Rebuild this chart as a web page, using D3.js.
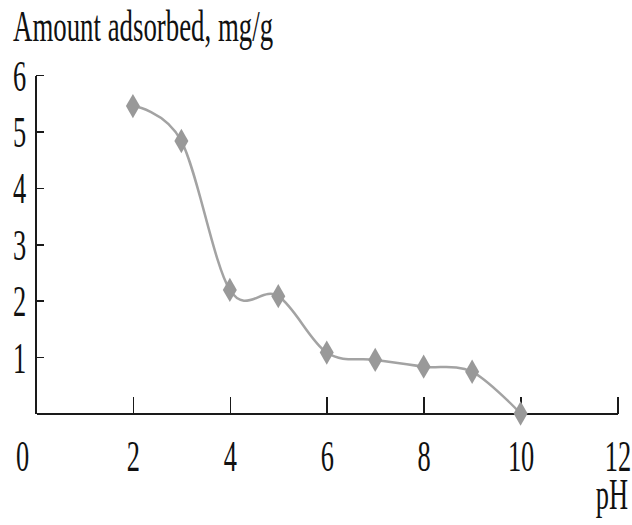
<!DOCTYPE html>
<html><head><meta charset="utf-8">
<script src="https://cdn.jsdelivr.net/npm/d3@7"></script>
<style>body{margin:0;background:#fff}svg{display:block}</style>
</head><body>
<script>
const pH = [2, 3, 4, 5, 6, 7, 8, 9, 10];
const amount = [5.45, 4.83, 2.19, 2.08, 1.08, 0.95, 0.83, 0.74, 0.0];
const xTicks = [0, 2, 4, 6, 8, 10, 12];
const yTicks = [1, 2, 3, 4, 5, 6];
const yTitle = "Amount adsorbed, mg/g";
const xTitle = "pH";

const W = 632, H = 525;
const SX = 0.6, FS = 44, FONT = "'Liberation Serif','Times New Roman',serif";
const svg = d3.select("body").append("svg").attr("width", W).attr("height", H);

const x = d3.scaleLinear().domain([0, 12]).range([36, 617.5]);
const y = d3.scaleLinear().domain([0, 6]).range([413.5, 75]);

// X axis
const gx = svg.append("g").attr("transform", `translate(0,${y(0)})`)
  .call(d3.axisBottom(x).tickValues(xTicks).tickSizeInner(-17).tickSizeOuter(0).tickFormat(d3.format("d")));
gx.select(".domain").attr("stroke", "#1a1a1a").attr("stroke-width", 2);
gx.selectAll(".tick line").attr("stroke", "#1a1a1a").attr("stroke-width", 1.6)
  .attr("display", d => d === 0 ? "none" : null);
gx.selectAll(".tick text")
  .attr("x", null).attr("y", null).attr("dy", null)
  .attr("transform", d => `translate(${d === 0 ? -14 : 0},57.5) scale(${SX},1)`)
  .attr("text-anchor", "middle").attr("fill", "#111")
  .style("font-family", FONT).style("font-size", FS + "px");

// Y axis
const gy = svg.append("g").attr("transform", `translate(${x(0) - 0.5},0)`)
  .call(d3.axisLeft(y).tickValues(yTicks).tickSizeInner(-8).tickSizeOuter(0).tickFormat(d3.format("d")));
gy.select(".domain").attr("stroke", "#1a1a1a").attr("stroke-width", 2);
gy.selectAll(".tick line").attr("stroke", "#1a1a1a").attr("stroke-width", 1.6);
gy.selectAll(".tick text")
  .attr("x", null).attr("y", null).attr("dy", null)
  .attr("transform", `translate(-16,15) scale(${SX},1)`)
  .attr("text-anchor", "middle").attr("fill", "#111")
  .style("font-family", FONT).style("font-size", FS + "px");
svg.selectAll(".domain, .tick line").attr("shape-rendering", "crispEdges");

// Titles
svg.append("text").attr("transform", `translate(13,41) scale(0.61,1)`)
  .attr("fill", "#111").style("font-family", FONT).style("font-size", FS + "px").text(yTitle);
svg.append("text").attr("transform", `translate(628,509) scale(${SX},1)`)
  .attr("text-anchor", "end")
  .attr("fill", "#111").style("font-family", FONT).style("font-size", FS + "px").text(xTitle);

// Line
const data = pH.map((p, i) => ({p, a: amount[i]}));
const line = d3.line().x(d => x(d.p)).y(d => y(d.a)).curve(d3.curveCatmullRom.alpha(0));
svg.append("path").datum(data).attr("d", line)
  .attr("fill", "none").attr("stroke", "#a3a3a3").attr("stroke-width", 2.5);

// Markers
svg.selectAll(".mk").data(data).join("path").attr("class", "mk")
  .attr("transform", d => `translate(${x(d.p)},${y(d.a)})`)
  .attr("d", d3.symbol().type(d3.symbolDiamond).size(170))
  .attr("fill", "#999999");
</script>
</body></html>
